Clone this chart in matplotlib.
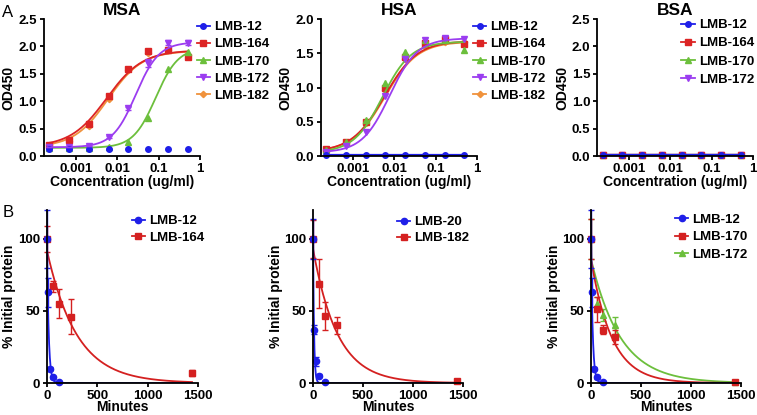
import numpy as np
import matplotlib.pyplot as plt

plt.rcParams['font.family'] = ['Liberation Sans', 'DejaVu Sans']
plt.rcParams['font.weight'] = 'bold'
plt.rcParams['axes.linewidth'] = 1.3
plt.rcParams['xtick.major.width'] = 1.3
plt.rcParams['ytick.major.width'] = 1.3
plt.rcParams['xtick.major.size'] = 3
plt.rcParams['ytick.major.size'] = 3
plt.rcParams['xtick.major.pad'] = 2
plt.rcParams['ytick.major.pad'] = 2
plt.rcParams['xtick.labelsize'] = 9.5
plt.rcParams['ytick.labelsize'] = 9.5

# ---- A: ELISA, concentración (ug/ml) vs OD450 ----
conc = [0.000229, 0.000686, 0.00206, 0.00617, 0.0185, 0.0556, 0.1667, 0.5]

msa_12 = [0.13, 0.13, 0.13, 0.13, 0.13, 0.13, 0.13, 0.13]
msa_164 = [0.21, 0.30, 0.59, 1.10, 1.58, 1.91, 1.93, 1.80]
msa_170 = [0.15, 0.15, 0.15, 0.16, 0.26, 0.70, 1.58, 1.90]
msa_172 = [0.16, 0.17, 0.18, 0.35, 0.87, 1.70, 2.07, 2.07]
msa_182 = [0.20, 0.28, 0.55, 1.05, 1.57, 1.88, 1.93, 1.84]
msa_172_err = [0, 0, 0, 0.02, 0.03, 0.07, 0.05, 0.05]

hsa_12 = [0.02, 0.02, 0.02, 0.02, 0.02, 0.02, 0.02, 0.02]
hsa_164 = [0.10, 0.21, 0.50, 1.00, 1.44, 1.65, 1.71, 1.63]
hsa_170 = [0.09, 0.20, 0.52, 1.07, 1.52, 1.70, 1.70, 1.55]
hsa_172 = [0.06, 0.14, 0.35, 0.88, 1.41, 1.70, 1.72, 1.71]
hsa_182 = [0.09, 0.19, 0.48, 0.97, 1.42, 1.60, 1.66, 1.66]

bsa_12 = [0.01, 0.01, 0.01, 0.01, 0.01, 0.01, 0.01, 0.01]
bsa_164 = [0.01, 0.01, 0.01, 0.01, 0.01, 0.01, 0.01, 0.01]
bsa_170 = [0.01, 0.01, 0.01, 0.01, 0.01, 0.01, 0.01, 0.01]
bsa_172 = [0.01, 0.01, 0.01, 0.01, 0.01, 0.01, 0.01, 0.01]

# parametros del ajuste sigmoide (abajo, arriba, EC50, pendiente)
msa_fit = {'LMB-164': [0.17, 1.93, 0.0055, 1.0], 'LMB-170': [0.15, 1.98, 0.085, 1.6],
           'LMB-172': [0.16, 2.08, 0.028, 1.55], 'LMB-182': [0.16, 1.92, 0.006, 1.05]}
hsa_fit = {'LMB-164': [0.06, 1.68, 0.0058, 1.1], 'LMB-170': [0.05, 1.67, 0.0052, 1.25],
           'LMB-172': [0.05, 1.72, 0.0078, 1.3], 'LMB-182': [0.06, 1.67, 0.006, 1.1]}

# ---- B: estabilidad, minutos vs % proteina inicial ----
t_fast = [0, 10, 30, 60, 120]
t_slow = [0, 60, 120, 240, 1440]

b1_12 = [100, 63, 10, 4, 0.6]
b1_12_err = [20, 10, 1, 1, 0.3]
b1_164 = [100, 67, 55, 46, 7]
b1_164_err = [9, 4, 10, 12, 2]

b2_20 = [100, 37, 15, 5, 1]
b2_20_err = [14, 3, 3, 1, 0.5]
b2_182 = [100, 69, 46.5, 40, 1.5]
b2_182_err = [13, 17, 10, 6, 1]

b3_12 = [100, 63, 10, 4, 0.6]
b3_12_err = [20, 10, 1, 1, 0.3]
b3_170 = [100, 51, 37, 32, 0.5]
b3_170_err = [14, 9, 3, 5, 0.5]
b3_172 = [100, 55, 47, 40, 0.5]
b3_172_err = [14, 5, 4, 6, 0.5]

# decaimiento exponencial (inicio, k)
b1_fit = {'LMB-12': [100, 0.06], 'LMB-164': [92, 0.0034]}
b2_fit = {'LMB-20': [100, 0.1], 'LMB-182': [93, 0.0041]}
b3_fit = {'LMB-12': [100, 0.06], 'LMB-170': [86, 0.0048], 'LMB-172': [86, 0.0034]}

colores = {'LMB-12': '#1f1fe8', 'LMB-20': '#1f1fe8', 'LMB-164': '#dc2424',
           'LMB-170': '#6cbf3c', 'LMB-172': '#9b3df0', 'LMB-182': '#f0923c'}
marcas = {'LMB-12': 'o', 'LMB-20': 'o', 'LMB-164': 's', 'LMB-170': '^',
          'LMB-172': 'v', 'LMB-182': 'D'}
colores_b = {'LMB-12': '#1f1fe8', 'LMB-20': '#1f1fe8', 'LMB-164': '#d42020',
             'LMB-170': '#d42020', 'LMB-172': '#6cbf3c', 'LMB-182': '#d42020'}
marcas_b = {'LMB-12': 'o', 'LMB-20': 'o', 'LMB-164': 's', 'LMB-170': 's',
            'LMB-172': '^', 'LMB-182': 's'}


def sigmoide(x, p):
    return p[0] + (p[1] - p[0]) / (1 + (p[2] / x) ** p[3])


def ejes(fig, caja):
    ax = fig.add_axes(caja)
    ax.spines['top'].set_visible(False)
    ax.spines['right'].set_visible(False)
    return ax


def panel_a(ax, titulo, series, ajustes, ymax, linea_plana):
    xs = np.logspace(np.log10(conc[0]), np.log10(conc[-1]), 200)
    for nombre, vals in series:
        c = colores[nombre]
        ms = 4 if marcas[nombre] != 'D' else 3.2
        if nombre in ajustes:
            ax.plot(xs, sigmoide(xs, ajustes[nombre]), color=c, lw=1.3)
        elif linea_plana:
            ax.plot(conc, vals, color=c, lw=1.6)
        ax.plot(conc, vals, ls='none', marker=marcas[nombre], ms=ms, color=c, clip_on=False)
        ax.plot([], [], color=c, marker=marcas[nombre], ms=ms, lw=1.3, label=nombre)
    ax.set_xscale('log')
    ax.set_xlim(1.7e-4, 1)
    ax.set_ylim(0, ymax)
    ax.set_xticks([0.001, 0.01, 0.1, 1])
    ax.set_xticklabels(['0.001', '0.01', '0.1', '1'])
    ax.minorticks_off()
    ax.set_yticks(np.arange(0, ymax + 0.01, 0.5))
    ax.set_yticklabels(['%.1f' % v for v in np.arange(0, ymax + 0.01, 0.5)])
    ax.set_title(titulo, fontsize=12.5, fontweight='bold', pad=3)
    ax.set_xlabel('Concentration (ug/ml)', fontsize=10, fontweight='bold', labelpad=0)
    ax.set_ylabel('OD450', fontsize=10, fontweight='bold', labelpad=2)


def panel_b(ax, series, ajustes):
    ts = np.linspace(0, 1440, 400)
    for nombre, t, vals, err in series:
        c = colores_b[nombre]
        y0, k = ajustes[nombre]
        ax.plot(ts, y0 * np.exp(-k * ts), color=c, lw=1.3)
        ax.errorbar(t, vals, yerr=err, ls='none', marker=marcas_b[nombre], ms=4.5,
                    color=c, capsize=2.5, elinewidth=1, clip_on=False)
        ax.plot([], [], color=c, marker=marcas_b[nombre], ms=4.5, lw=1.3, label=nombre)
    ax.set_xlim(0, 1500)
    ax.set_ylim(0, 120)
    ax.set_xticks([0, 500, 1000, 1500])
    ax.set_yticks([0, 50, 100])
    ax.set_xlabel('Minutes', fontsize=10, fontweight='bold', labelpad=-1.5)
    ax.set_ylabel('% Initial protein', fontsize=10, fontweight='bold', labelpad=1)


fig = plt.figure(figsize=(7.57, 4.15), dpi=100)

ax1 = ejes(fig, [0.0581, 0.624, 0.2061, 0.330])
panel_a(ax1, 'MSA', [('LMB-182', msa_182), ('LMB-164', msa_164), ('LMB-170', msa_170),
                     ('LMB-172', msa_172), ('LMB-12', msa_12)], msa_fit, 2.5, False)
ax1.errorbar(conc, msa_172, yerr=msa_172_err, ls='none', color=colores['LMB-172'],
             capsize=2, elinewidth=1)

ax2 = ejes(fig, [0.424, 0.624, 0.206, 0.330])
panel_a(ax2, 'HSA', [('LMB-182', hsa_182), ('LMB-164', hsa_164), ('LMB-170', hsa_170),
                     ('LMB-172', hsa_172), ('LMB-12', hsa_12)], hsa_fit, 2.0, True)

ax3 = ejes(fig, [0.789, 0.624, 0.206, 0.330])
panel_a(ax3, 'BSA', [('LMB-172', bsa_172), ('LMB-170', bsa_170), ('LMB-164', bsa_164),
                     ('LMB-12', bsa_12)], {}, 2.5, True)

orden_a = ['LMB-12', 'LMB-164', 'LMB-170', 'LMB-172', 'LMB-182']
for ax, ancla, esp in [(ax1, (0.98, 0.985), 0.37), (ax2, (0.975, 0.985), 0.37),
                       (ax3, (0.54, 1.0), 0.45)]:
    h, l = ax.get_legend_handles_labels()
    pares = sorted(zip(l, h), key=lambda p: orden_a.index(p[0]))
    ax.legend([p[1] for p in pares], [p[0] for p in pares], loc='upper left',
              bbox_to_anchor=ancla, frameon=False, fontsize=9.5, handlelength=1.0,
              handletextpad=0.3, labelspacing=esp, borderaxespad=0, borderpad=0)

bx1 = ejes(fig, [0.062, 0.077, 0.1996, 0.417])
panel_b(bx1, [('LMB-164', t_slow, b1_164, b1_164_err), ('LMB-12', t_fast, b1_12, b1_12_err)], b1_fit)

bx2 = ejes(fig, [0.4135, 0.077, 0.1981, 0.417])
panel_b(bx2, [('LMB-182', t_slow, b2_182, b2_182_err), ('LMB-20', t_fast, b2_20, b2_20_err)], b2_fit)

bx3 = ejes(fig, [0.7807, 0.077, 0.1983, 0.417])
panel_b(bx3, [('LMB-172', t_slow, b3_172, b3_172_err), ('LMB-170', t_slow, b3_170, b3_170_err),
              ('LMB-12', t_fast, b3_12, b3_12_err)], b3_fit)

for ax, orden, ancla, esp in [(bx1, ['LMB-12', 'LMB-164'], (0.56, 0.97), 0.3),
                              (bx2, ['LMB-20', 'LMB-182'], (0.56, 0.965), 0.3),
                              (bx3, ['LMB-12', 'LMB-170', 'LMB-172'], (0.56, 0.98), 0.4)]:
    h, l = ax.get_legend_handles_labels()
    pares = sorted(zip(l, h), key=lambda p: orden.index(p[0]))
    ax.legend([p[1] for p in pares], [p[0] for p in pares], loc='upper left',
              bbox_to_anchor=ancla, frameon=False, fontsize=9.5, handlelength=1.0,
              handletextpad=0.3, labelspacing=esp, borderaxespad=0, borderpad=0)

fig.text(0.003, 0.988, 'A', fontsize=12, fontweight='normal', va='top')
fig.text(0.003, 0.505, 'B', fontsize=12, fontweight='normal', va='top')

fig.savefig('out.png', dpi=100)
